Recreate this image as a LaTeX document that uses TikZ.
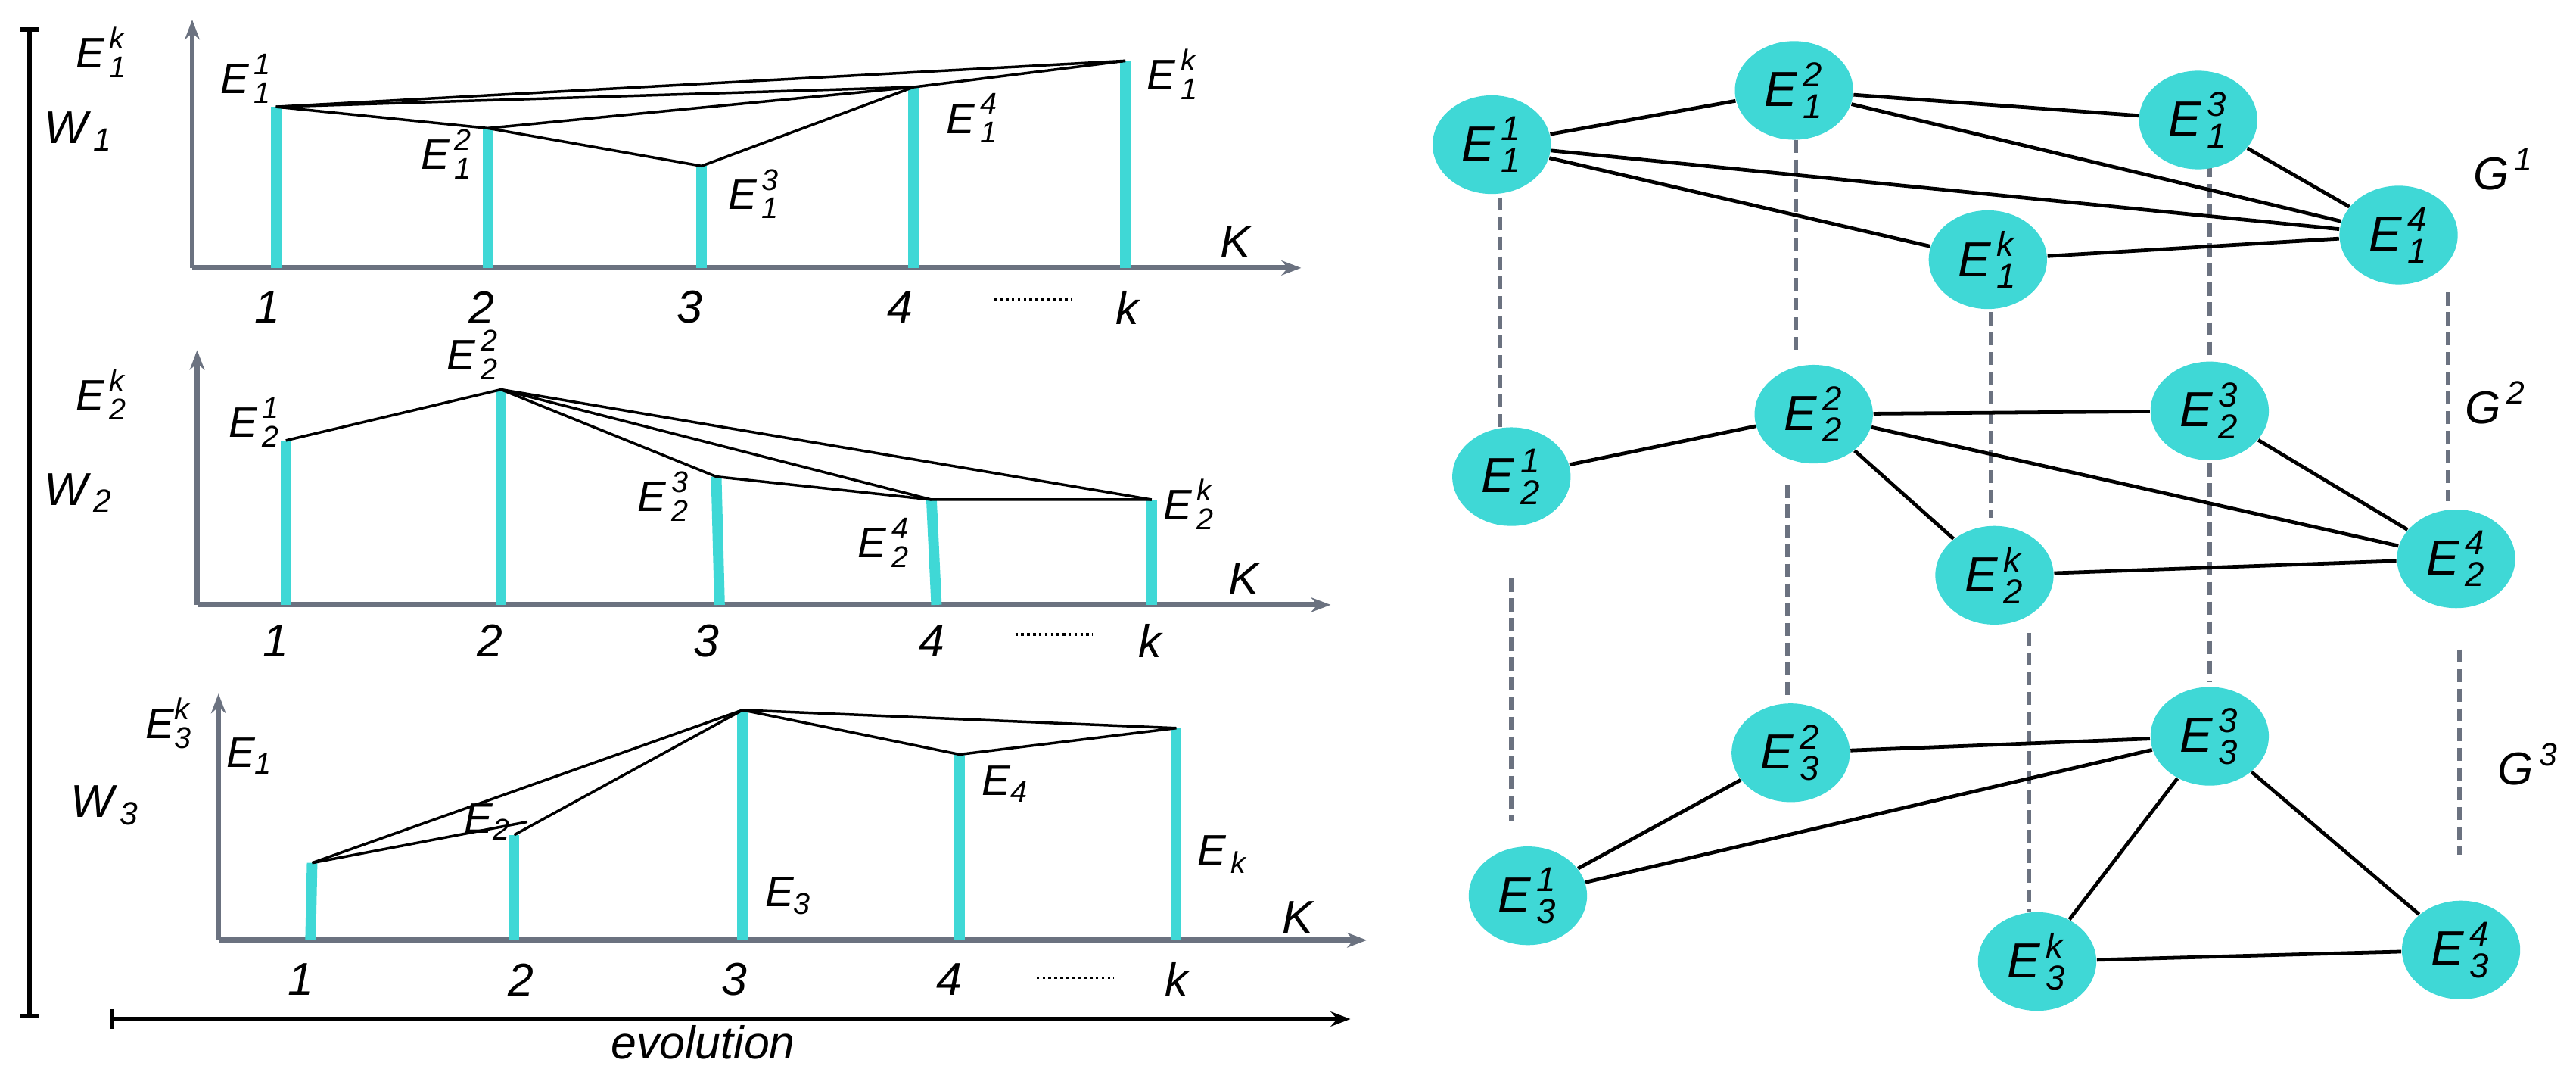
\documentclass[tikz,border=0pt]{standalone}
\usepackage{amsmath}
\usepackage{fontspec}
\setmainfont{Liberation Sans}
\usetikzlibrary{arrows.meta,shapes.geometric}
\definecolor{cyanbar}{HTML}{3FD8D6}
\definecolor{axisgray}{HTML}{6B7280}
\newcommand{\Elab}[2]{$\textit{E}^{\,\textit{#1}}_{\,\textit{#2}}$}
\begin{document}
\begin{tikzpicture}[x=0.5pt,y=-0.5pt,
    ax/.style={axisgray, line width=1.6pt, -{Stealth[length=6pt]}},
    bar/.style={cyanbar, line width=3.2pt},
    link/.style={black, line width=0.8pt},
    lbl/.style={font=\fontsize{13}{13}\selectfont\itshape},
    tick/.style={font=\fontsize{14}{14}\selectfont\itshape},
    vert/.style={ellipse, fill=cyanbar, minimum width=36pt, minimum height=30pt, inner sep=0pt, font=\fontsize{15}{15}\selectfont\itshape},
    gdash/.style={axisgray, line width=1.3pt, dash pattern=on 4pt off 2pt}]
    \useasboundingbox (0,0) rectangle (1568,650);

    % frame
    \draw[line width=1.2pt] (12,18) -- (24,18) (18,18) -- (18,618) (12,618) -- (24,618);
    \draw[line width=1.2pt, -{Stealth[length=6pt]}] (68,620) -- (822,620);
    \draw[line width=1.2pt] (68,614) -- (68,626);
    \node[tick] (evo) at (428,634) {evolution};

    % W1
    \draw[ax] (117,163) -- (117,12);
    \draw[ax] (117,163) -- (792,163);
    \foreach \n/\x/\t in {1/168/65, 2/297/78, 3/427/101, 4/556/53, k/685/37}{
        \draw[bar] (\x,163) -- (\x,\t) coordinate (A\n);
    }
    \draw[link] (A1) -- (A2) -- (A3) -- (A4) -- (Ak);
    \draw[link] (A2) -- (A4);
    \draw[link] (A1) -- (A4);
    \draw[link] (A1) -- (Ak);
    \node[lbl] (ay1) at (62,32) {\Elab{k}{1}};
    \node[lbl] (a1) at (150,48) {\Elab{1}{1}};
    \node[lbl] (a2) at (272,94) {\Elab{2}{1}};
    \node[lbl] (a3) at (459,118) {\Elab{3}{1}};
    \node[lbl] (a4) at (592,72) {\Elab{4}{1}};
    \node[lbl] (ak) at (714,45) {\Elab{k}{1}};
    \node[tick] (w1) at (48,80) {$\textit{W}_{\,\textit{1}}$};
    \node[tick] (k1) at (752,147) {K};
    \foreach \n/\x in {1/163, 2/293, 3/420, 4/548, k/686}{
        \node[tick] at (\x,187) {\n};
    }
    \draw[densely dotted, line width=0.8pt] (605,182) -- (652,182);

    % W2
    \draw[ax] (120,368) -- (120,213);
    \draw[ax] (120,368) -- (810,368);
    \draw[bar] (174,368) -- (174,268) coordinate (B1);
    \draw[bar] (305,368) -- (305,237) coordinate (B2);
    \draw[bar] (438,368) -- (436,290) coordinate (B3);
    \draw[bar] (570,368) -- (567,304) coordinate (B4);
    \draw[bar] (701,368) -- (701,304) coordinate (Bk);
    \draw[link] (B1) -- (B2) -- (B3) -- (B4) -- (Bk);
    \draw[link] (B2) -- (B4);
    \draw[link] (B2) -- (Bk);
    \node[lbl] (by) at (62,240) {\Elab{k}{2}};
    \node[lbl] (b1) at (155,257) {\Elab{1}{2}};
    \node[lbl] (b2) at (288,216) {\Elab{2}{2}};
    \node[lbl] (b3) at (404,302) {\Elab{3}{2}};
    \node[lbl] (b4) at (538,330) {\Elab{4}{2}};
    \node[lbl] (bk) at (724,307) {\Elab{k}{2}};
    \node[tick] (w2) at (48,300) {$\textit{W}_{\,\textit{2}}$};
    \node[tick] (k2) at (757,352) {K};
    \foreach \n/\x in {1/168, 2/298, 3/430, 4/567, k/700}{
        \node[tick] at (\x,390) {\n};
    }
    \draw[densely dotted, line width=0.8pt] (618,386) -- (665,386);

    % W3
    \draw[ax] (133,572) -- (133,422);
    \draw[ax] (133,572) -- (832,572);
    \draw[bar] (189,572) -- (190,525) coordinate (C1);
    \draw[bar] (313,572) -- (313,508) coordinate (C2);
    \draw[bar] (452,572) -- (452,432) coordinate (C3);
    \draw[bar] (584,572) -- (584,459) coordinate (C4);
    \draw[bar] (716,572) -- (716,443) coordinate (Ck);
    \coordinate (C1e) at (321,500);
    \draw[link] (C1) -- (C3) -- (C4) -- (Ck) -- (C3);
    \draw[link] (C1) -- (C1e);
    \draw[link] (C2) -- (C3);
    \node[lbl] (cy) at (103,440) {$\textit{E}^{\textit{k}}_{\textit{3}}$};
    \node[lbl] (c1) at (152,460) {$\textit{E}_{\textit{1}}$};
    \node[lbl] (c2) at (297,500) {$\textit{E}_{\textit{2}}$};
    \node[lbl] (c3) at (480,545) {$\textit{E}_{\textit{3}}$};
    \node[lbl] (c4) at (612,477) {$\textit{E}_{\textit{4}}$};
    \node[lbl] (ck) at (744,520) {$\textit{E}_{\,\textit{k}}$};
    \node[tick] (w3) at (64,490) {$\textit{W}_{\,\textit{3}}$};
    \node[tick] (k3) at (790,558) {K};
    \foreach \n/\x in {1/183, 2/317, 3/447, 4/578, k/716}{
        \node[tick] at (\x,596) {\n};
    }
    \draw[densely dotted, line width=0.8pt] (631,595) -- (678,595);

    % layers
    \draw[gdash] (913,120) -- (913,278);
    \draw[gdash] (1093,85) -- (1093,215);
    \draw[gdash] (1212,190) -- (1212,315);
    \draw[gdash] (1345,100) -- (1345,225);
    \draw[gdash] (1490,178) -- (1490,305);
    \draw[gdash] (920,352) -- (920,500);
    \draw[gdash] (1088,295) -- (1088,425);
    \draw[gdash] (1235,385) -- (1235,555);
    \draw[gdash] (1345,282) -- (1345,415);
    \draw[gdash] (1497,395) -- (1497,520);

    \node[vert] (E11) at (908,88) {\Elab{1}{1}};
    \node[vert] (E12) at (1092,55) {\Elab{2}{1}};
    \node[vert] (E13) at (1338,73) {\Elab{3}{1}};
    \node[vert] (E14) at (1460,143) {\Elab{4}{1}};
    \node[vert] (E1k) at (1210,158) {\Elab{k}{1}};
    \node[vert] (E21) at (920,290) {\Elab{1}{2}};
    \node[vert] (E22) at (1104,252) {\Elab{2}{2}};
    \node[vert] (E23) at (1345,250) {\Elab{3}{2}};
    \node[vert] (E24) at (1495,340) {\Elab{4}{2}};
    \node[vert] (E2k) at (1214,350) {\Elab{k}{2}};
    \node[vert] (E31) at (930,545) {\Elab{1}{3}};
    \node[vert] (E32) at (1090,458) {\Elab{2}{3}};
    \node[vert] (E33) at (1345,448) {\Elab{3}{3}};
    \node[vert] (E34) at (1498,578) {\Elab{4}{3}};
    \node[vert] (E3k) at (1240,585) {\Elab{k}{3}};

    \foreach \a/\b in {E11/E12, E12/E13, E12/E14, E11/E14, E11/E1k, E13/E14, E1k/E14,
                       E21/E22, E22/E23, E22/E24, E22/E2k, E23/E24, E2k/E24,
                       E31/E32, E32/E33, E31/E33, E33/E3k, E33/E34, E3k/E34}{
        \draw[link, line width=1.1pt] (\a) -- (\b);
    }

    \node[tick] (g1) at (1524,103) {$\textit{G}^{\,\textit{1}}$};
    \node[tick] (g2) at (1519,245) {$\textit{G}^{\,\textit{2}}$};
    \node[tick] (g3) at (1539,465) {$\textit{G}^{\,\textit{3}}$};
\end{tikzpicture}
\end{document}
